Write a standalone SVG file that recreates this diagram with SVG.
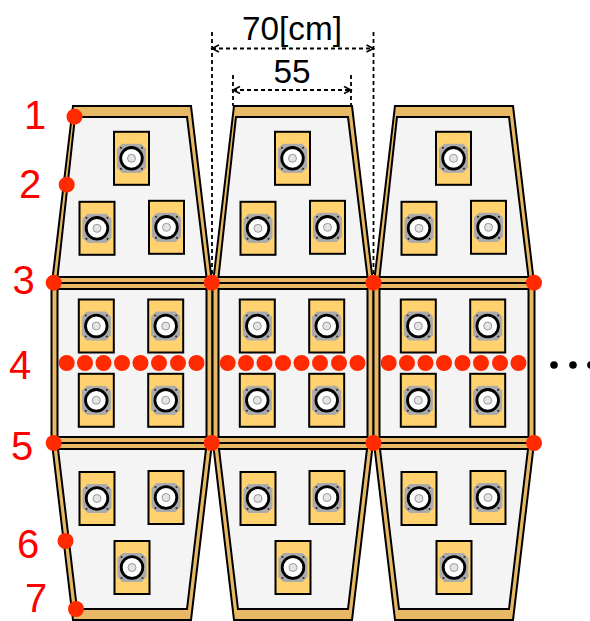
<svg xmlns="http://www.w3.org/2000/svg" xmlns:xlink="http://www.w3.org/1999/xlink" width="590" height="621" viewBox="0 0 590 621">
<style>
.frame{fill:#E8B964;stroke:#000;stroke-width:2;stroke-linejoin:miter}
.pane{fill:#F4F4F4;stroke:#000;stroke-width:2;stroke-linejoin:miter}
.box{fill:#FFD26F;stroke:#000;stroke-width:2}
.dim{fill:none;stroke:#000;stroke-width:1.800;stroke-dasharray:4 3}
.dimline{fill:none;stroke:#000;stroke-width:1.800;stroke-dasharray:4 3;marker-start:url(#as);marker-end:url(#ae)}
.dot{fill:#FF2A00}
.num{font-family:"Liberation Sans",Arial,sans-serif;font-size:40px;fill:#FF0000;text-anchor:middle}
.dimtxt{font-family:"Liberation Sans",Arial,sans-serif;font-size:33.300px;fill:#000;text-anchor:middle}
</style>
<defs>
<marker id="ae" markerWidth="10" markerHeight="10" refX="8" refY="5" orient="auto" markerUnits="userSpaceOnUse"><path d="M1 1.500L8 5L1 8.500" fill="none" stroke="#000" stroke-width="1.500"/></marker>
<marker id="as" markerWidth="10" markerHeight="10" refX="2" refY="5" orient="auto" markerUnits="userSpaceOnUse"><path d="M9 1.500L2 5L9 8.500" fill="none" stroke="#000" stroke-width="1.500"/></marker>
<g id="unit">
<rect class="box" x="-17.500" y="-26.500" width="35" height="53"/>
<path d="M-9.500-14H9.500L14-9.500V9.500L9.500 14H-9.500L-14 9.500V-9.500Z" fill="#ABABAB" stroke="#ABABAB" stroke-width="1" stroke-linejoin="round"/>
<g fill="#333"><circle cx="-10.500" cy="-10.500" r="1.100"/><circle cx="10.500" cy="-10.500" r="1.100"/><circle cx="-10.500" cy="10.500" r="1.100"/><circle cx="10.500" cy="10.500" r="1.100"/></g>
<circle r="10.800" fill="#fff" stroke="#000" stroke-width="2.800"/>
<circle r="4" fill="#E4E4E4" stroke="#777" stroke-width="0.700"/>
</g>
<g id="panel-top">
<path class="frame" d="M73 106H191L212 283H52Z"/>
<path class="pane" d="M75 117H187L206.500 277H57.500Z"/>
<use href="#unit" x="131.500" y="158.300"/>
<use href="#unit" x="97" y="228.300"/>
<use href="#unit" x="166.500" y="227.300"/>
</g>
<g id="panel-mid">
<rect class="frame" x="51.500" y="283" width="161" height="160"/>
<rect class="pane" x="57.500" y="289" width="149" height="148"/>
<use href="#unit" x="96.300" y="326"/>
<use href="#unit" x="165.700" y="326"/>
<use href="#unit" x="96.300" y="400.300"/>
<use href="#unit" x="165.700" y="400.300"/>
</g>
<g id="panel-bot">
<path class="frame" d="M52 443H212L191 620H73Z"/>
<path class="pane" d="M58 449H206L187 609H77Z"/>
<use href="#unit" x="97" y="498.500"/>
<use href="#unit" x="166" y="497.500"/>
<use href="#unit" x="132" y="567.500"/>
</g>
<g id="row4"><circle cx="66.700" cy="363" r="8"/><circle cx="85" cy="363" r="8"/><circle cx="103.500" cy="363" r="8"/><circle cx="122" cy="363" r="8"/><circle cx="140.500" cy="363" r="8"/><circle cx="159" cy="363" r="8"/><circle cx="178" cy="363" r="8"/><circle cx="196.500" cy="363" r="8"/></g>
</defs>
<g id="panel-top-1"><use href="#panel-top"/></g>
<g id="panel-top-2"><use href="#panel-top" x="161"/></g>
<g id="panel-top-3"><use href="#panel-top" x="322"/></g>
<g id="panel-bot-1"><use href="#panel-bot"/></g>
<g id="panel-bot-2"><use href="#panel-bot" x="161"/></g>
<g id="panel-bot-3"><use href="#panel-bot" x="322"/></g>
<g id="panel-mid-1"><use href="#panel-mid"/></g>
<g id="panel-mid-2"><use href="#panel-mid" x="161"/></g>
<g id="panel-mid-3"><use href="#panel-mid" x="322"/></g>
<g id="connectors">
<path class="dim" d="M212 32V280M373.500 32V280M233 75V106M351 75V106"/>
<path class="dimline" d="M212 48.500H373.500"/>
<path class="dimline" d="M233 90H351"/>
</g>
<g id="points" class="dot">
<circle cx="74.500" cy="116.700" r="8"/><circle cx="66.700" cy="184.700" r="8"/>
<circle cx="53.700" cy="282.700" r="8"/><circle cx="211.700" cy="282.700" r="8"/><circle cx="373.500" cy="282.700" r="8"/><circle cx="534" cy="282.700" r="8"/>
<circle cx="53.700" cy="443" r="8"/><circle cx="211.700" cy="443" r="8"/><circle cx="373.500" cy="443" r="8"/><circle cx="534" cy="443" r="8"/>
<circle cx="65.500" cy="541" r="8"/><circle cx="76" cy="609" r="8"/>
<use href="#row4"/><use href="#row4" x="161"/><use href="#row4" x="322"/>
</g>
<g id="ellipsis"><circle cx="554" cy="365" r="3.800"/><circle cx="573" cy="365" r="3.800"/><circle cx="591" cy="365" r="3.800"/></g>
<g id="labels">
<text class="num" x="35" y="129">1</text>
<text class="num" x="30" y="198">2</text>
<text class="num" x="23.500" y="294">3</text>
<text class="num" x="20" y="379">4</text>
<text class="num" x="22" y="460">5</text>
<text class="num" x="28" y="558">6</text>
<text class="num" x="36" y="612">7</text>
<text class="dimtxt" x="292" y="40">70[cm]</text>
<text class="dimtxt" x="292" y="83">55</text>
</g>
</svg>
